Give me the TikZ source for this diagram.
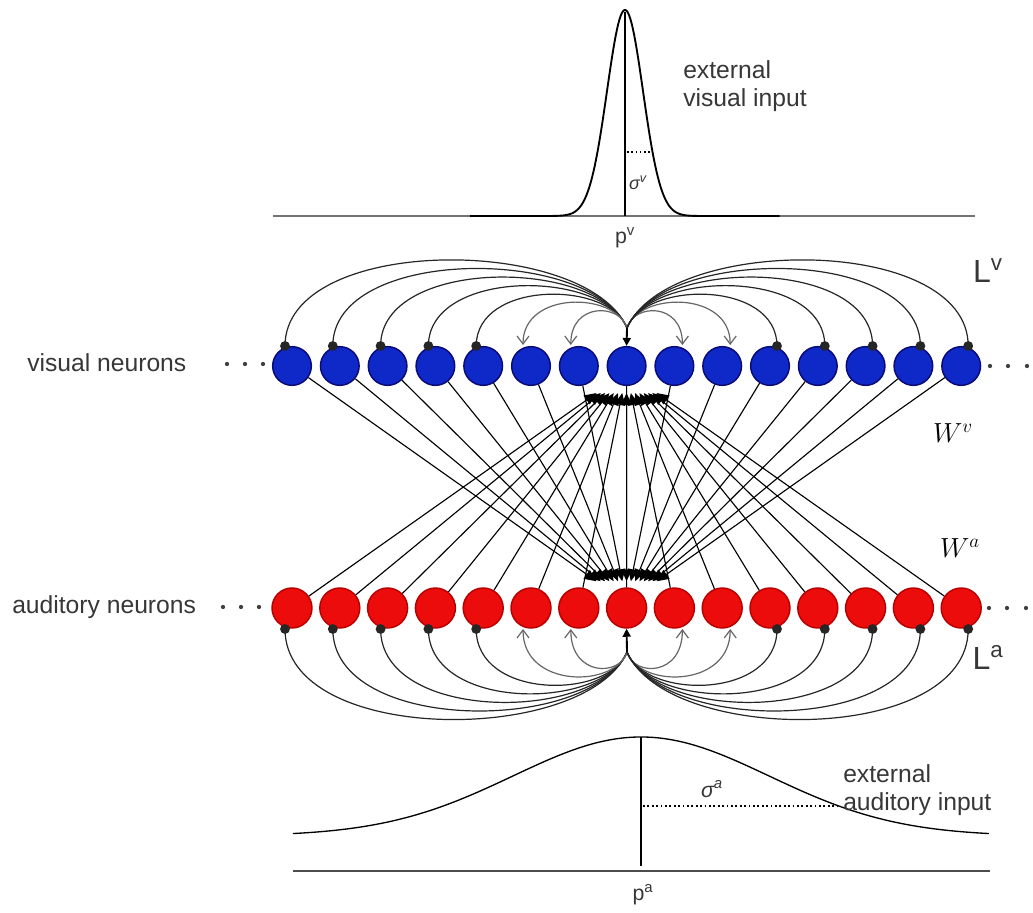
\documentclass[tikz,border=0pt]{standalone}
\usepackage{fontspec}
\setmainfont{Liberation Sans}
\usetikzlibrary{arrows.meta,calc}
\definecolor{vblue}{RGB}{15,40,200}
\definecolor{vblueb}{RGB}{10,10,120}
\definecolor{ared}{RGB}{236,12,12}
\definecolor{aredb}{RGB}{185,0,0}
\definecolor{txt}{RGB}{55,55,55}
\begin{document}
\begin{tikzpicture}[x=0.75pt,y=-0.75pt,
  vneu/.style={circle,fill=vblue,draw=vblueb,line width=1.1pt,minimum size=29pt,inner sep=0pt},
  aneu/.style={circle,fill=ared,draw=aredb,line width=1.1pt,minimum size=30pt,inner sep=0pt},
  lab/.style={font=\fontsize{18.5}{21}\selectfont,text=txt,inner sep=0pt},
  arcln/.style={line width=0.9pt,black!85},
  exarc/.style={line width=0.9pt,black!60,-{Straight Barb[length=6pt,width=9pt,line width=0.9pt]}},
  warr/.style={line width=0.85pt,-{Triangle[length=9pt,width=8pt]}},
  stem/.style={line width=1.4pt,-{Triangle[length=6pt,width=6pt]}},
  dotsty/.style={fill=black!85},
]
\useasboundingbox (0,0) rectangle (1033,913);

% ---------- top gaussian ----------
\draw[black!55,line width=1.8pt] (273,216) -- (975,216);
\draw[line width=1.4pt] plot[domain=-8.6:8.6,samples=250] ({625+18*\x},{216-206*exp(-0.5*\x*\x)});
\draw[line width=0.9pt] (625,216) -- (625,12);
\draw[dotted,line width=1.2pt] (627,152) -- (652,152);
\node[text=txt,font=\fontsize{13.5}{15}\selectfont\itshape] (sv) at (638,183) {σ\textsuperscript{v}};
\node[text=txt,font=\fontsize{16}{18}\selectfont] (pv) at (625,238) {p\textsuperscript{v}};
\node[lab,anchor=west,align=left] (evi) at (683,86) {external\\visual input};

% ---------- neurons ----------
\foreach \i in {0,...,14}{
  \node[vneu] (v\i) at ({292+47.8*\i},366) {};
  \node[aneu] (a\i) at ({292+47.8*\i},608) {};
}
\coordinate (cv) at (627,328);
\coordinate (ca) at (627,652);

% ---------- cross connections ----------
\foreach \i in {0,...,14}{
  \pgfmathsetmacro{\off}{0.09*(292+47.8*\i-627)}
  \draw[warr] (v\i) -- ($(a7.north)+(\off,-6)$);
  \draw[warr] (a\i) -- ($(v7.south)+(\off,7)$);
}

% ---------- lateral connections ----------
\foreach \i in {0,...,14}{
  \pgfmathtruncatemacro{\k}{abs(\i-7)}
  \pgfmathtruncatemacro{\s}{sign(\i-7)}
  \ifnum\k>0
    \pgfmathsetmacro{\dx}{292+47.8*\i+7*\s-627}
    \pgfmathsetmacro{\hv}{(8+8.6*\k+2)/0.75}
    \pgfmathsetmacro{\hw}{\hv+18}
    \pgfmathsetmacro{\hx}{\hv+23}
    \ifnum\k<3
      \draw[exarc] (cv) .. controls +({0.12*\dx},-\hv) and +(0,-\hw) .. ($(v\i.center)+(8*\s,-21)$);
      \draw[exarc] (ca) .. controls +({0.12*\dx},\hv) and +(0,\hx) .. ($(a\i.center)+(8*\s,21)$);
    \else
      \draw[arcln] (cv) .. controls +({0.12*\dx},-\hv) and +(0,-\hw) .. ($(v\i.center)+(7*\s,-20)$);
      \draw[arcln] (ca) .. controls +({0.12*\dx},\hv) and +(0,\hx) .. ($(a\i.center)+(7*\s,21)$);
      \fill[dotsty] ($(v\i.center)+(7*\s,-20)$) circle[radius=3.7pt];
      \fill[dotsty] ($(a\i.center)+(7*\s,21)$) circle[radius=3.7pt];
    \fi
  \fi
}
\draw[stem] (cv) -- (v7.north);
\draw[stem] (ca) -- (a7.south);

% ---------- dots ----------
\foreach \x in {227,245,263}{
  \fill[black!75] (\x,364) circle[radius=1.6pt];
  \fill[black!75] (\x-4,607) circle[radius=1.6pt];
}
\foreach \x in {990,1008,1027}{
  \fill[black!75] (\x,366) circle[radius=1.6pt];
  \fill[black!75] (\x-1,608) circle[radius=1.6pt];
}

% ---------- labels ----------
\node[lab,anchor=west] (vn) at (27,363) {visual neurons};
\node[lab,anchor=west] (an) at (12,607) {auditory neurons};
\node[text=txt,font=\fontsize{24}{26}\selectfont] (Lv) at (988,271) {L\textsuperscript{v}};
\node[text=txt,font=\fontsize{24}{26}\selectfont] (La) at (988,657) {L\textsuperscript{a}};
\node[text=black,font=\fontsize{22}{24}\selectfont] (Wv) at (953,433) {$W^{v}$};
\node[text=black,font=\fontsize{22}{24}\selectfont] (Wa) at (960,548) {$W^{a}$};

% ---------- bottom gaussian ----------
\draw[black!70,line width=1pt] (293,871) -- (990,871);
\draw[line width=1pt] plot[domain=-2.72:2.72,samples=200] ({641+128*\x},{836-99*exp(-0.5*\x*\x)});
\draw[line width=0.9pt] (641,737) -- (641,866);
\draw[dotted,line width=1.3pt] (643,806) -- (839,806);
\node[text=txt,font=\fontsize{16}{18}\selectfont\itshape] (sa) at (712,789) {σ\textsuperscript{a}};
\node[text=txt,font=\fontsize{16}{18}\selectfont] (pa) at (643,895) {p\textsuperscript{a}};
\node[lab,anchor=west,align=left] (eai) at (843,790) {external\\auditory input};
\end{tikzpicture}
\end{document}
